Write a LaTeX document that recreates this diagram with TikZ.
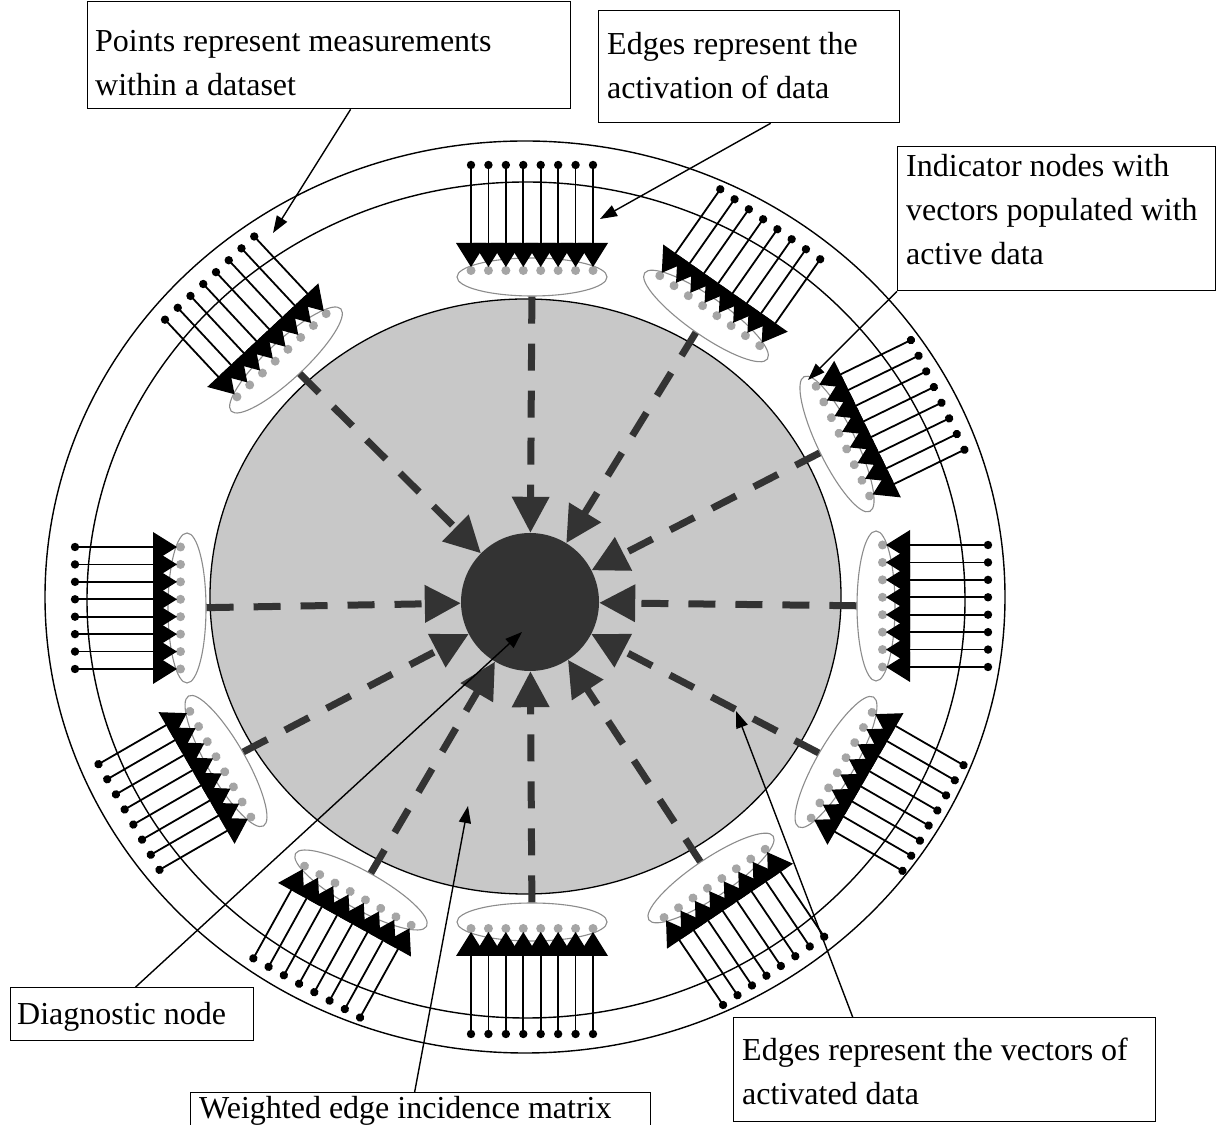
\documentclass[tikz,border=0pt]{standalone}
\usepackage{fontspec}
\setmainfont{Liberation Serif}
\usetikzlibrary{shapes.geometric,arrows.meta}
\definecolor{diskgray}{RGB}{200,200,200}
\definecolor{darkc}{RGB}{51,51,51}
\definecolor{dotgray}{RGB}{165,165,165}
\definecolor{ellgray}{RGB}{140,140,140}
\tikzset{
  modell/.style={ellipse, draw=ellgray, line width=1.1pt, minimum width=38pt, minimum height=150pt, inner sep=0pt},
  modline/.style={line width=1.8pt},
  ringline/.style={line width=1.4pt},
  dasharrow/.style={draw=darkc, line width=7pt, dash pattern=on 27pt off 20pt, -{Triangle[length=36pt,width=36pt]}},
  notebox/.style={draw, line width=1.3pt, fill=white, anchor=north west, inner sep=0pt},
  notetext/.style={anchor=north west, inner sep=0pt, align=left, font=\fontsize{32}{44}\selectfont},
  notearrow/.style={line width=1.4pt, -{Triangle[length=17pt,width=12pt]}},
}
\newcommand\drawmodule[4]{%
  \node[modell, rotate=#4] (#1) at (#2,#3) {};
  \begin{scope}[shift={(#2,#3)}, rotate=#4]
    \foreach \tv in {-61,-43.57,-26.14,-8.71,8.71,26.14,43.57,61}{
      \fill[dotgray] (6.5,\tv) circle[radius=4.5];
      \draw[modline] (20,\tv) -- (112,\tv);
      \fill (112,\tv) circle[radius=4.2];
    }
    \foreach \tv in {-61,-43.57,-26.14,-8.71,8.71,26.14,43.57,61}{
      \fill (34,\tv-15) -- (10,\tv) -- (34,\tv+15) -- cycle;
    }
  \end{scope}
}
\begin{document}
\begin{tikzpicture}[x=1pt,y=1pt]
\useasboundingbox (0,0) rectangle (1217,1124);
\fill[white] (0,0) rectangle (1217,1124);
% rings
\draw[ringline] (525,527) ellipse [x radius=480, y radius=456];
\draw[ringline] (526,524) ellipse [x radius=439, y radius=418];
\filldraw[fill=diskgray, line width=1.3pt] (525.5,527.5) ellipse [x radius=315.5, y radius=297.5];
% modules
\drawmodule{mT}{532}{847}{90}
\drawmodule{mUR}{706}{808}{55}
\drawmodule{mRU}{837}{680}{26}
\drawmodule{mR}{876}{518}{0}
\drawmodule{mRL}{836}{362}{-30}
\drawmodule{mBR}{711}{246}{-56}
\drawmodule{mB}{532}{202}{-90}
\drawmodule{mBL}{361}{234}{-119}
\drawmodule{mLL}{226}{363}{-150}
\drawmodule{mL}{187}{516}{180}
\drawmodule{mUL}{286}{764}{133}
% diagnostic node
\node[circle, fill=darkc, minimum size=138pt, inner sep=0pt] (dg) at (530,522) {};
% dashed edges
\foreach \m in {mT,mUR,mRU,mR,mRL,mBR,mB,mBL,mLL,mL,mUL}{
  \draw[dasharrow] (\m) -- (dg);
}
% annotation boxes
\node[notebox, minimum width=483pt, minimum height=107pt] (b1) at (87,1123) {};
\node[notetext] (t1) at (95,1094) {Points represent measurements\\within a dataset};
\node[notebox, minimum width=301pt, minimum height=112pt] (b2) at (598,1114) {};
\node[notetext] (t2) at (607,1092) {Edges represent the\\activation of data};
\node[notebox, minimum width=318pt, minimum height=144pt] (b3) at (897,978) {};
\node[notetext] (t3) at (906,970) {Indicator nodes with\\vectors populated with\\active data};
\node[notebox, minimum width=243pt, minimum height=53pt] (b4) at (10,137) {};
\node[notetext] (t4) at (17,122) {Diagnostic node};
\node[notebox, minimum width=460pt, minimum height=40pt] (b5) at (190,32) {};
\node[notetext] (t5) at (199,28) {Weighted edge incidence matrix};
\node[notebox, minimum width=422pt, minimum height=104pt] (b6) at (733,107) {};
\node[notetext] (t6) at (742,86) {Edges represent the vectors of\\activated data};
% arrow targets
\coordinate (p1) at (273,891);
\coordinate (p2) at (600,905);
\coordinate (p3) at (808,744);
\coordinate (p4) at (522,492);
\coordinate (p5) at (468,318);
\coordinate (p6) at (736,413);
\draw[notearrow] ([xshift=21.5pt]b1.south) -- (p1);
\draw[notearrow] ([xshift=21.5pt]b2.south) -- (p2);
\draw[notearrow] (b3.south west) -- (p3);
\draw[notearrow] ([xshift=3.5pt]b4.north) -- (p4);
\draw[notearrow] ([xshift=-6pt]b5.north) -- (p5);
\draw[notearrow] ([xshift=-92pt]b6.north) -- (p6);
\end{tikzpicture}
\end{document}
